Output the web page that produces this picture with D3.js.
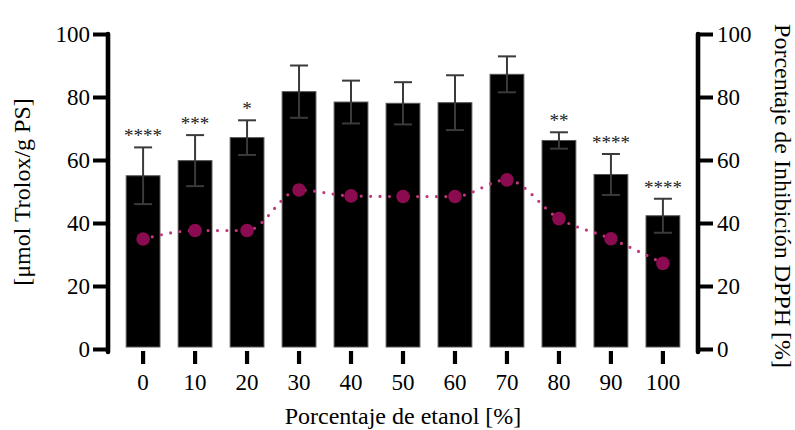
<!DOCTYPE html>
<html>
<head>
<meta charset="utf-8">
<script src="https://cdn.jsdelivr.net/npm/d3@7"></script>
<style>
  html, body { margin: 0; padding: 0; background: #fff; }
  svg { display: block; }
  text { font-family: "Liberation Serif", "DejaVu Serif", serif; fill: #000; }
</style>
</head>
<body>
<svg id="chart" width="795" height="430"></svg>
<script>
// ---- data ----
const categories = ["0", "10", "20", "30", "40", "50", "60", "70", "80", "90", "100"];
const troloxValues = [55.0, 59.8, 67.1, 81.7, 78.4, 78.0, 78.2, 87.2, 66.2, 55.4, 42.3];
const troloxErrors = [9.0, 8.1, 5.5, 8.3, 6.8, 6.7, 8.7, 5.7, 2.6, 6.5, 5.4];
const dpphValues = [34.9, 37.6, 37.6, 50.5, 48.6, 48.4, 48.4, 53.7, 41.4, 35.0, 27.2];
const significance = ["****", "***", "*", "", "", "", "", "", "**", "****", "****"];
const yTicks = [0, 20, 40, 60, 80, 100];

const svg = d3.select("#chart");
const mLeft = 108, mRight = 698, mTop = 34, mBottom = 349;

const x = d3.scaleBand().domain(categories).range([mLeft, mRight]).padding(0.35);
const yL = d3.scaleLinear().domain([0, 100]).range([mBottom, mTop]);
const yR = d3.scaleLinear().domain([0, 100]).range([mBottom, mTop]);

// bars
svg.append("g").selectAll("rect").data(categories).join("rect")
  .attr("x", d => x(d))
  .attr("width", x.bandwidth())
  .attr("y", (d, i) => yL(troloxValues[i]))
  .attr("height", (d, i) => yL(0) - yL(troloxValues[i]) - 2)
  .attr("fill", "#000")
  .attr("stroke", "#555")
  .attr("stroke-width", 1);

// error bars
const eb = svg.append("g").attr("stroke", "#3a3a3a").attr("stroke-width", 2).attr("fill", "none");
categories.forEach((c, i) => {
  const cx = x(c) + x.bandwidth() / 2;
  const hi = yL(troloxValues[i] + troloxErrors[i]);
  const lo = yL(troloxValues[i] - troloxErrors[i]);
  eb.append("line").attr("x1", cx).attr("x2", cx).attr("y1", hi).attr("y2", lo);
  eb.append("line").attr("x1", cx - 9).attr("x2", cx + 9).attr("y1", hi).attr("y2", hi);
  eb.append("line").attr("x1", cx - 9).attr("x2", cx + 9).attr("y1", lo).attr("y2", lo);
});

// significance stars
svg.append("g").selectAll("text").data(categories).join("text")
  .attr("x", d => x(d) + x.bandwidth() / 2)
  .attr("y", (d, i) => yL(troloxValues[i] + troloxErrors[i]) - 5)
  .attr("text-anchor", "middle")
  .attr("font-size", 19)
  .attr("letter-spacing", 0)
  .style("fill", "#222")
  .text((d, i) => significance[i]);

// dotted DPPH line
const line = d3.line()
  .x((d, i) => x(categories[i]) + x.bandwidth() / 2)
  .y(d => yR(d))
  .curve(d3.curveMonotoneX);
svg.append("path").datum(dpphValues)
  .attr("d", line)
  .attr("fill", "none")
  .attr("stroke", "#c2387f")
  .attr("stroke-width", 3.2)
  .attr("stroke-linecap", "round")
  .attr("stroke-dasharray", "0 9.4");

svg.append("g").selectAll("circle").data(dpphValues).join("circle")
  .attr("cx", (d, i) => x(categories[i]) + x.bandwidth() / 2)
  .attr("cy", d => yR(d))
  .attr("r", 6.8)
  .attr("fill", "#8a0b4f");

// axes
function styleAxis(g) {
  g.select(".domain").remove();
  g.selectAll(".tick line").attr("stroke", "#000").attr("stroke-width", 4);
  g.selectAll(".tick text").attr("font-size", 23).style("font-family", "Liberation Serif, serif").attr("fill", "#000");
}
const gL = svg.append("g").attr("transform", `translate(${mLeft},0)`)
  .call(d3.axisLeft(yL).tickValues(yTicks).tickSize(15).tickPadding(3));
styleAxis(gL);
const gR = svg.append("g").attr("transform", `translate(${mRight},0)`)
  .call(d3.axisRight(yR).tickValues(yTicks).tickSize(15).tickPadding(4));
styleAxis(gR);
const gX = svg.append("g").attr("transform", `translate(0,351)`)
  .call(d3.axisBottom(x).tickSize(13).tickPadding(10));
styleAxis(gX);
gX.selectAll(".tick line").attr("stroke-width", 4.2).attr("stroke-linecap", "butt");

// vertical axis lines
[mLeft, mRight].forEach(px => {
  svg.append("line").attr("x1", px).attr("x2", px).attr("y1", mTop).attr("y2", mBottom + 3)
    .attr("stroke", "#000").attr("stroke-width", 4.6).attr("stroke-linecap", "round");
});

// axis titles
svg.append("text").attr("x", 403).attr("y", 424).attr("text-anchor", "middle")
  .attr("font-size", 24).text("Porcentaje de etanol [%]");
svg.append("text").attr("transform", "translate(30,192) rotate(-90)").attr("text-anchor", "middle")
  .attr("font-size", 24).text("[μmol Trolox/g PS]");
svg.append("text").attr("transform", "translate(775,196) rotate(90)").attr("text-anchor", "middle")
  .attr("font-size", 24).text("Porcentaje de Inhibición DPPH [%]");
</script>
</body>
</html>
